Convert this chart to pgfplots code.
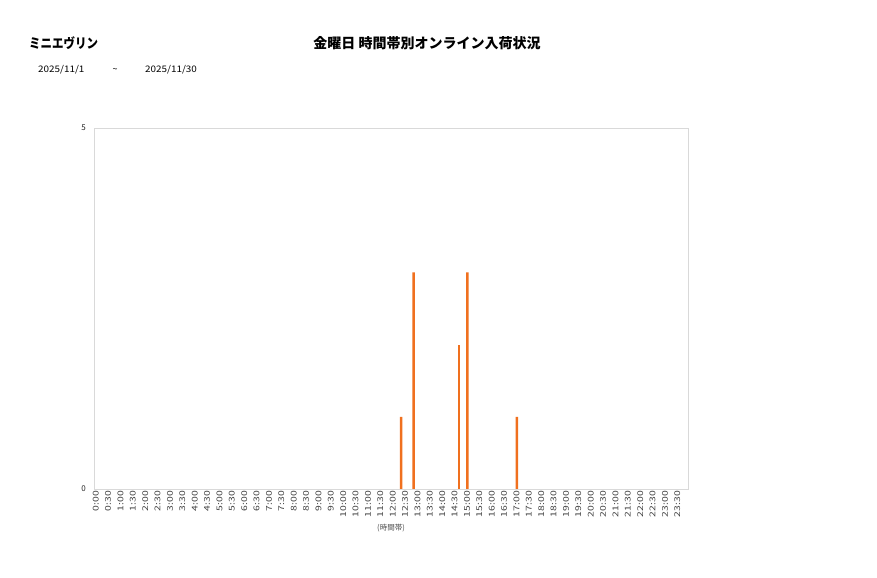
\documentclass[border=0pt]{standalone}
\usepackage{pgfplots}
\pgfplotsset{compat=1.18}
\usepackage{fontspec}
\setmainfont{Noto Sans CJK JP}
\definecolor{barorange}{HTML}{F0701E}
\definecolor{framegray}{HTML}{D9D9D9}
\begin{document}
\begin{tikzpicture}[x=1bp,y=1bp]
\useasboundingbox (0,0) rectangle (877,578);
% headings
\node[anchor=west,inner sep=0pt,xscale=0.85,font=\fontsize{13.5bp}{16bp}\selectfont\bfseries] at (29,535) {ミニエヴリン};
\node[inner sep=0pt,font=\fontsize{14bp}{16bp}\selectfont\bfseries] at (427,535) {金曜日 時間帯別オンライン入荷状況};
\node[anchor=west,inner sep=0pt,font=\fontsize{9bp}{10bp}\selectfont,xscale=1.1] at (38,508) {2025/11/1};
\node[inner sep=0pt,font=\fontsize{9bp}{10bp}\selectfont] at (115,508) {\textasciitilde};
\node[anchor=west,inner sep=0pt,font=\fontsize{9bp}{10bp}\selectfont,xscale=1.1] at (145,508) {2025/11/30};
\begin{axis}[
    at={(94bp,89bp)}, anchor=south west,
    width=594bp, height=361bp, scale only axis,
    xmin=-0.5, xmax=47.5, ymin=0, ymax=5,
    ybar, bar width=2.6bp,
    axis line style={framegray},
    major tick length=0pt,
    ytick={0,5},
    xtick={0,...,47},
    xticklabels={0:00,0:30,1:00,1:30,2:00,2:30,3:00,3:30,4:00,4:30,5:00,5:30,
        6:00,6:30,7:00,7:30,8:00,8:30,9:00,9:30,10:00,10:30,11:00,11:30,
        12:00,12:30,13:00,13:30,14:00,14:30,15:00,15:30,16:00,16:30,17:00,17:30,
        18:00,18:30,19:00,19:30,20:00,20:30,21:00,21:30,22:00,22:30,23:00,23:30},
    /pgf/number format/assume math mode=true,
    xticklabel style={xshift=-4.5bp, rotate=90, xscale=1.3, anchor=east, inner sep=1.5bp,
        font=\fontsize{8bp}{9bp}\selectfont, text=black!75},
    yticklabel style={font=\fontsize{8bp}{9bp}\selectfont, text=black!85, inner sep=2bp, xshift=-6bp},
    xlabel={(時間帯)},
    xlabel style={at={(axis description cs:0.5,0)}, anchor=center, yshift=-39bp,
        font=\fontsize{7.5bp}{9bp}\selectfont, text=black!70},
]
\addplot[draw=none, fill=barorange, bar shift=-4bp] coordinates {
    (30,3) (34,1)
};
\addplot[draw=none, fill=barorange, bar shift=0bp] coordinates {
    (29,2)
};
\addplot[draw=none, fill=barorange, bar shift=4bp] coordinates {
    (24,1) (25,3)
};
\end{axis}
\end{tikzpicture}
\end{document}
